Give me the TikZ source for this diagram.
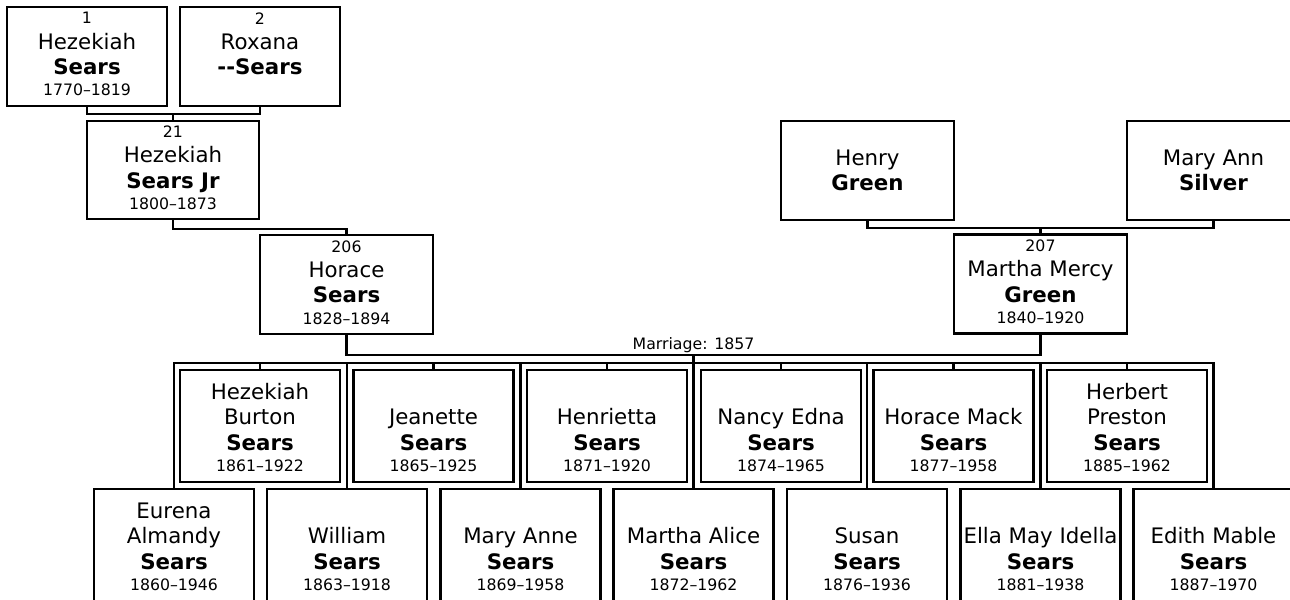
\documentclass[tikz,border=0pt]{standalone}
\usepackage{fontspec}
\setmainfont{DejaVu Sans}
\newcommand{\namefont}{\fontsize{16pt}{19pt}\selectfont}
\newcommand{\yearfont}{\fontsize{11.8pt}{19pt}\selectfont}
\newcommand{\toprow}{\rule{0pt}{14.25pt}}
\newcommand{\lastgap}{\rule[-3.5pt]{0pt}{0pt}}
\begin{document}
\begin{tikzpicture}[x=0.75pt,y=-0.75pt,
  person/.style={draw,line width=1.7pt,inner sep=0pt,align=center,font=\namefont,
    minimum width=129.75pt,minimum height=74.25pt},
  elder/.style={person,minimum width=120pt},
  child/.style={person,minimum width=120pt,minimum height=84pt},
  link/.style={line width=1.7pt},
  marriage/.style={above,inner sep=1pt,font=\yearfont}]
  \useasboundingbox (0,0) rectangle (1290,600);
  % Sears line
  \node[elder] (hezekiah) at (87,56.5)
    {{\yearfont 1}\\Hezekiah\\\textbf{Sears}\\[-3pt]{\yearfont 1770--1819}\lastgap};
  \node[elder] (roxana) at (260,56.5)
    {{\yearfont 2}\\Roxana\\\textbf{\mbox{-}\mbox{-}Sears}\\[-3pt]\lastgap};
  \node[person,minimum width=129pt,minimum height=73.5pt] (hezekiahjr) at (173,170)
    {{\yearfont 21}\\Hezekiah\\\textbf{Sears Jr}\\[-3pt]{\yearfont 1800--1873}\lastgap};
  \node[person] (horace) at (346.5,284.5)
    {{\yearfont 206}\\Horace\\\textbf{Sears}\\[-3pt]{\yearfont 1828--1894}\lastgap};
  % Green line
  \node[person] (henry) at (867.5,170.5) {Henry\\\textbf{Green}};
  \node[person] (maryann) at (1213.5,170.5) {Mary Ann\\\textbf{Silver}};
  \node[person] (martha) at (1040.5,284)
    {{\yearfont 207}\\Martha Mercy\\\textbf{Green}\\[-3pt]{\yearfont 1840--1920}\lastgap};
  % children, upper row
  \node[child] (hezburton) at (260,426)
    {\toprow Hezekiah\\Burton\\\textbf{Sears}\\[-3pt]{\yearfont 1861--1922}};
  \node[child] (jeanette) at (433.5,426)
    {\toprow\\Jeanette\\\textbf{Sears}\\[-3pt]{\yearfont 1865--1925}};
  \node[child] (henrietta) at (607,426)
    {\toprow\\Henrietta\\\textbf{Sears}\\[-3pt]{\yearfont 1871--1920}};
  \node[child] (nancy) at (781,426)
    {\toprow\\Nancy Edna\\\textbf{Sears}\\[-3pt]{\yearfont 1874--1965}};
  \node[child] (horacemack) at (953.5,426)
    {\toprow\\Horace Mack\\\textbf{Sears}\\[-3pt]{\yearfont 1877--1958}};
  \node[child] (herbert) at (1127,426)
    {\toprow Herbert\\Preston\\\textbf{Sears}\\[-3pt]{\yearfont 1885--1962}};
  % children, lower row
  \node[child] (eurena) at (174,545)
    {\toprow Eurena\\Almandy\\\textbf{Sears}\\[-3pt]{\yearfont 1860--1946}};
  \node[child] (william) at (347,545)
    {\toprow\\William\\\textbf{Sears}\\[-3pt]{\yearfont 1863--1918}};
  \node[child] (maryanne) at (520.5,545)
    {\toprow\\Mary Anne\\\textbf{Sears}\\[-3pt]{\yearfont 1869--1958}};
  \node[child] (marthaalice) at (693.5,545)
    {\toprow\\Martha Alice\\\textbf{Sears}\\[-3pt]{\yearfont 1872--1962}};
  \node[child] (susan) at (867,545)
    {\toprow\\Susan\\\textbf{Sears}\\[-3pt]{\yearfont 1876--1936}};
  \node[child] (ella) at (1040.5,545)
    {\toprow\\Ella May Idella\\\textbf{Sears}\\[-3pt]{\yearfont 1881--1938}};
  \node[child] (edith) at (1213.5,545)
    {\toprow\\Edith Mable\\\textbf{Sears}\\[-3pt]{\yearfont 1887--1970}};
  % parents to children
  \draw[link] (hezekiah.south) -- ++(0,7) coordinate (gen1) -| (roxana.south);
  \draw[link] (hezekiahjr.north) -- (hezekiahjr.north |- gen1);
  \draw[link] (hezekiahjr.south) -- ++(0,9) -| (horace.north);
  \draw[link] (henry.south) -- ++(0,7) coordinate (gen2) -| (maryann.south);
  \draw[link] (martha.north) -- (martha.north |- gen2);
  \coordinate (wed) at (693.5,355);
  \coordinate (kids) at (693.5,363);
  \draw[link] (horace.south) |- (wed) node[marriage] (wedding) {Marriage: 1857} -| (martha.south);
  \draw[link] (wed) -- (marthaalice.north);
  \draw[link] (eurena.north) |- (kids) -| (edith.north);
  \draw[link] (william.north) -- (william.north |- kids);
  \draw[link] (maryanne.north) -- (maryanne.north |- kids);
  \draw[link] (susan.north) -- (susan.north |- kids);
  \draw[link] (ella.north) -- (ella.north |- kids);
  \draw[link] (hezburton.north) -- (hezburton.north |- kids);
  \draw[link] (jeanette.north) -- (jeanette.north |- kids);
  \draw[link] (henrietta.north) -- (henrietta.north |- kids);
  \draw[link] (nancy.north) -- (nancy.north |- kids);
  \draw[link] (horacemack.north) -- (horacemack.north |- kids);
  \draw[link] (herbert.north) -- (herbert.north |- kids);
\end{tikzpicture}
\end{document}
